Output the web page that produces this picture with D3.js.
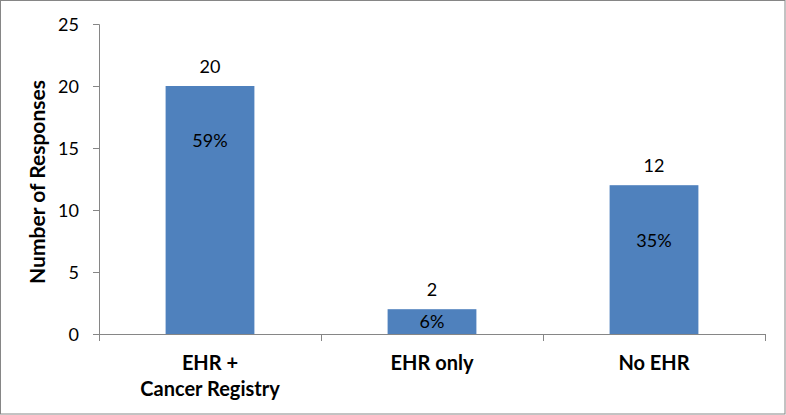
<!DOCTYPE html>
<html><head><meta charset="utf-8">
<script src="https://cdn.jsdelivr.net/npm/d3@7"></script>
<style>body{margin:0;background:#fff}svg{display:block}text{font-family:Lato,"Open Sans",sans-serif}</style>
</head><body>
<script>
const categories = [["EHR +","Cancer Registry"],["EHR only"],["No EHR"]];
const counts = [20, 2, 12];
const percents = ["59%", "6%", "35%"];
const yTicks = [0, 5, 10, 15, 20, 25];

const W = 786, H = 415;
const svg = d3.select("body").append("svg").attr("width", W).attr("height", H);
svg.append("rect").attr("x",0.5).attr("y",0.5).attr("width",W-1.5).attr("height",H-1.5)
  .attr("fill","#fff").attr("stroke","#868686");

const m = {left:99, right:765, top:24, bottom:334};
const x = d3.scaleBand().domain(d3.range(counts.length)).range([m.left, m.right]).paddingInner(0.6).paddingOuter(0.3);
const xb = d3.scaleBand().domain(d3.range(counts.length)).range([m.left, m.right]);
const y = d3.scaleLinear().domain([0, 25]).range([m.bottom, m.top]);

// y axis
const ya = svg.append("g").attr("transform",`translate(${m.left},0)`)
  .call(d3.axisLeft(y).tickValues(yTicks).tickSize(6).tickPadding(14));
ya.select(".domain").attr("stroke","#868686").attr("d",`M-6,${m.top+0.5}H0.5V${m.bottom}`);
ya.selectAll(".tick line").attr("stroke","#868686");
ya.selectAll(".tick text").attr("font-size",18).attr("fill","#000").attr("dy","0.34em");

// x axis
const xa = svg.append("g").attr("transform",`translate(0,${m.bottom})`);
xa.append("line").attr("x1",m.left).attr("x2",m.right).attr("y1",0.5).attr("y2",0.5).attr("stroke","#868686");
const bounds = d3.range(counts.length).map(i => xb(i)).concat([m.right]);
xa.selectAll("line.tk").data(bounds).join("line").attr("class","tk")
  .attr("x1",d=>Math.round(d)+0.5).attr("x2",d=>Math.round(d)+0.5).attr("y1",0).attr("y2",7).attr("stroke","#868686");

const lab = xa.selectAll("text.cat").data(categories).join("text").attr("class","cat")
  .attr("x",(d,i)=>x(i)+x.bandwidth()/2).attr("y",36)
  .attr("text-anchor","middle").attr("font-size",20).attr("font-weight","bold").attr("fill","#000");
lab.selectAll("tspan").data(d=>d).join("tspan")
  .attr("x",function(){return this.parentNode.getAttribute("x");})
  .attr("dy",(d,i)=>i===0?0:26).text(d=>d);

// y title
svg.append("text").attr("transform",`translate(45,182) rotate(-90)`)
  .attr("text-anchor","middle").attr("font-size",21).attr("font-weight","bold").text("Number of Responses");

// bars
svg.selectAll("rect.bar").data(counts).join("rect").attr("class","bar")
  .attr("x",(d,i)=>x(i)).attr("width",x.bandwidth())
  .attr("y",d=>y(d)).attr("height",d=>y(0)-y(d)).attr("fill","#4F81BD");

svg.selectAll("text.val").data(counts).join("text").attr("class","val")
  .attr("x",(d,i)=>x(i)+x.bandwidth()/2).attr("y",d=>y(d)-13)
  .attr("text-anchor","middle").attr("font-size",18).text(d=>d);

svg.selectAll("text.pct").data(counts).join("text").attr("class","pct")
  .attr("x",(d,i)=>x(i)+x.bandwidth()/2)
  .attr("y",d=>Math.min(y(d)+55,(y(d)+y(0))/2)).attr("dy","0.36em")
  .attr("text-anchor","middle").attr("font-size",18).text((d,i)=>percents[i]);
</script>
</body></html>
